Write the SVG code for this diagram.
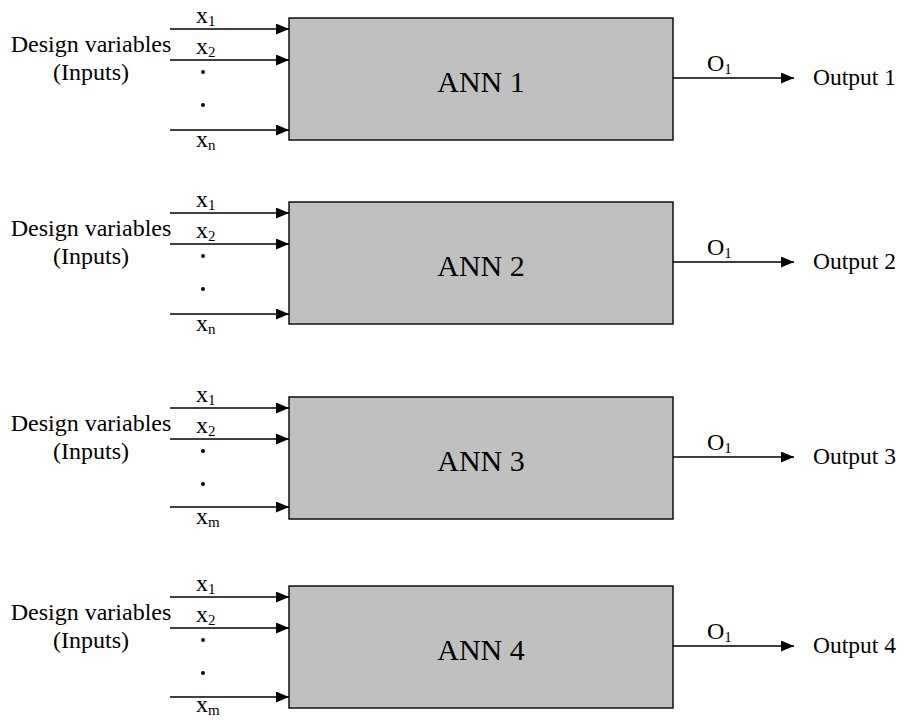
<svg xmlns="http://www.w3.org/2000/svg" width="905" height="721" viewBox="0 0 905 721">
  <defs>
    <marker id="arrow" markerUnits="userSpaceOnUse" markerWidth="14" markerHeight="12" refX="13" refY="5.5" orient="auto">
      <path d="M0,0 L13,5.5 L0,11 z" fill="#000"/>
    </marker>
    <style>
      text { font-family: "Liberation Serif", "Times New Roman", serif; fill: #000; }
      .box { fill: #c0c0c0; stroke: #000; stroke-width: 1.4; }
      .ann { font-size: 30px; text-anchor: middle; }
      .lbl { font-size: 23.5px; }
      .side { font-size: 24px; text-anchor: middle; }
      .var { font-size: 24px; }
      .sub { font-size: 15px; }
      .wire { stroke: #000; stroke-width: 1.4; fill: none; marker-end: url(#arrow); }
      .dot { fill: #000; }
    </style>
  </defs>
  <rect width="905" height="721" fill="#fff"/>

  <!-- Network 1 -->
  <g id="ann1">
    <rect class="box" x="289" y="18" width="384" height="122"/>
    <text class="ann" x="481" y="92">ANN 1</text>
    <text class="side" x="91" y="52">Design variables</text>
    <text class="side" x="91" y="80">(Inputs)</text>
    <text class="var" x="196" y="23">x<tspan class="sub" dy="3">1</tspan></text>
    <text class="var" x="196" y="54">x<tspan class="sub" dy="3">2</tspan></text>
    <text class="var" x="196" y="147">x<tspan class="sub" dy="3">n</tspan></text>
    <circle class="dot" cx="203" cy="72" r="2"/>
    <circle class="dot" cx="203" cy="105" r="2"/>
    <text class="var" x="707" y="71">O<tspan class="sub" dy="3">1</tspan></text>
    <text class="lbl" x="813" y="85">Output 1</text>
  </g>

  <!-- Network 2 -->
  <g id="ann2">
    <rect class="box" x="289" y="202" width="384" height="122"/>
    <text class="ann" x="481" y="276">ANN 2</text>
    <text class="side" x="91" y="236">Design variables</text>
    <text class="side" x="91" y="264">(Inputs)</text>
    <text class="var" x="196" y="207">x<tspan class="sub" dy="3">1</tspan></text>
    <text class="var" x="196" y="238">x<tspan class="sub" dy="3">2</tspan></text>
    <text class="var" x="196" y="331">x<tspan class="sub" dy="3">n</tspan></text>
    <circle class="dot" cx="203" cy="256" r="2"/>
    <circle class="dot" cx="203" cy="289" r="2"/>
    <text class="var" x="707" y="255">O<tspan class="sub" dy="3">1</tspan></text>
    <text class="lbl" x="813" y="269">Output 2</text>
  </g>

  <!-- Network 3 -->
  <g id="ann3">
    <rect class="box" x="289" y="397" width="384" height="122"/>
    <text class="ann" x="481" y="471">ANN 3</text>
    <text class="side" x="91" y="431">Design variables</text>
    <text class="side" x="91" y="459">(Inputs)</text>
    <text class="var" x="196" y="402">x<tspan class="sub" dy="3">1</tspan></text>
    <text class="var" x="196" y="433">x<tspan class="sub" dy="3">2</tspan></text>
    <text class="var" x="196" y="524">x<tspan class="sub" dy="3">m</tspan></text>
    <circle class="dot" cx="203" cy="451" r="2"/>
    <circle class="dot" cx="203" cy="484" r="2"/>
    <text class="var" x="707" y="450">O<tspan class="sub" dy="3">1</tspan></text>
    <text class="lbl" x="813" y="464">Output 3</text>
  </g>

  <!-- Network 4 -->
  <g id="ann4">
    <rect class="box" x="289" y="586" width="384" height="122"/>
    <text class="ann" x="481" y="660">ANN 4</text>
    <text class="side" x="91" y="620">Design variables</text>
    <text class="side" x="91" y="648">(Inputs)</text>
    <text class="var" x="196" y="591">x<tspan class="sub" dy="3">1</tspan></text>
    <text class="var" x="196" y="622">x<tspan class="sub" dy="3">2</tspan></text>
    <text class="var" x="196" y="712">x<tspan class="sub" dy="3">m</tspan></text>
    <circle class="dot" cx="203" cy="640" r="2"/>
    <circle class="dot" cx="203" cy="673" r="2"/>
    <text class="var" x="707" y="639">O<tspan class="sub" dy="3">1</tspan></text>
    <text class="lbl" x="813" y="653">Output 4</text>
  </g>

  <!-- Input and output arrows -->
  <g id="connectors">
    <line class="wire" x1="170" y1="29" x2="289" y2="29"/>
    <line class="wire" x1="170" y1="60" x2="289" y2="60"/>
    <line class="wire" x1="170" y1="130" x2="289" y2="130"/>
    <line class="wire" x1="673" y1="78" x2="794" y2="78"/>

    <line class="wire" x1="170" y1="213" x2="289" y2="213"/>
    <line class="wire" x1="170" y1="244" x2="289" y2="244"/>
    <line class="wire" x1="170" y1="314" x2="289" y2="314"/>
    <line class="wire" x1="673" y1="262" x2="794" y2="262"/>

    <line class="wire" x1="170" y1="408" x2="289" y2="408"/>
    <line class="wire" x1="170" y1="439" x2="289" y2="439"/>
    <line class="wire" x1="170" y1="507" x2="289" y2="507"/>
    <line class="wire" x1="673" y1="457" x2="794" y2="457"/>

    <line class="wire" x1="170" y1="597" x2="289" y2="597"/>
    <line class="wire" x1="170" y1="628" x2="289" y2="628"/>
    <line class="wire" x1="170" y1="697" x2="289" y2="697"/>
    <line class="wire" x1="673" y1="646" x2="794" y2="646"/>
  </g>
</svg>
